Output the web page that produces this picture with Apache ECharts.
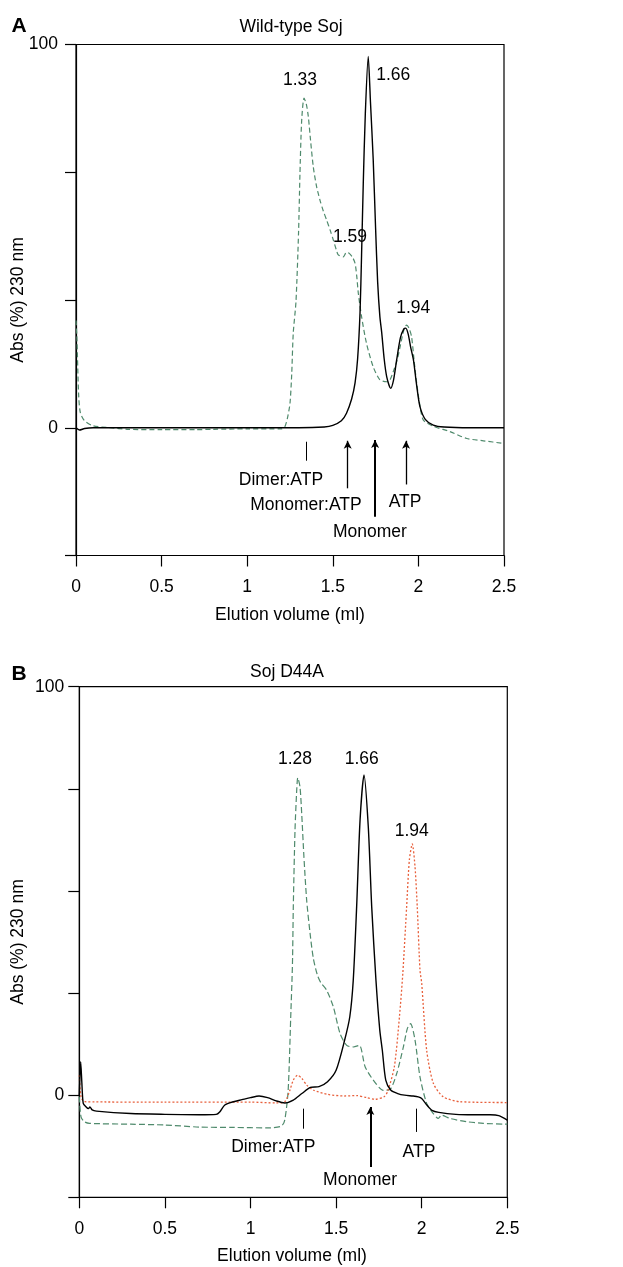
<!DOCTYPE html>
<html>
<head>
<meta charset="utf-8">
<script src="https://cdn.jsdelivr.net/npm/echarts@6/dist/echarts.min.js"></script>
<style>
html,body{margin:0;padding:0;background:#fff;}
#chart{width:623px;height:1267px;}
</style>
</head>
<body>
<div id="chart"></div>
<script>
// ---------- Panel A: Wild-type Soj ----------
var aBlackX = [0,0.02,0.05,0.1,0.5,1.0,1.3,1.45,1.5,1.55,1.58,1.61,1.63,1.645,1.659,1.668,1.678,1.69,1.707,1.72,1.736,1.75,1.762,1.775,1.786,1.8,1.815,1.838,1.855,1.873,1.895,1.915,1.926,1.94,1.955,1.971,1.99,2.009,2.04,2.087,2.15,2.3,2.5];
var aBlackY = [0,-0.6,-0.2,0,0,0,0,0.2,0.6,1.8,3.8,7.5,11.7,18,30,45,63.8,82,96.9,85,70,52,38,29,24.7,18,13.3,10.3,12.5,17.7,23.5,25.8,26,24.5,21,17.7,11,5.5,2.2,0.7,0.2,0,0];
var aGreenX = [0,0.005,0.015,0.025,0.05,0.1,0.2,0.3,0.5,0.7,0.8,1.0,1.2,1.22,1.235,1.25,1.26,1.269,1.285,1.3,1.308,1.318,1.332,1.345,1.357,1.37,1.386,1.405,1.425,1.445,1.464,1.485,1.503,1.52,1.532,1.561,1.58,1.596,1.615,1.63,1.64,1.649,1.668,1.697,1.736,1.775,1.815,1.835,1.853,1.875,1.893,1.915,1.931,1.945,1.96,1.975,1.99,2.01,2.029,2.087,2.184,2.282,2.379,2.5];
var aGreenY = [28,24,9,4,1.8,0.5,0,-0.4,-0.5,-0.5,-0.4,-0.3,-0.3,0.3,2.5,6.4,14,24.7,33,51,66,80,86,84.5,81.2,75,68.1,63,59.4,56.5,54.2,51.5,49,46.5,45.1,44.6,45.8,45.5,44.5,42.9,39.5,35.1,29,22,15.9,12.5,12,12.6,14.6,17.5,21.1,25.5,26.8,26,23.8,17.5,11.6,5.5,2,0.4,-1,-2.8,-3.4,-4.1];
var aArrowX    = [1.343, 1.587, 1.747, 1.928];
var aArrowLow  = [-8.6, -15.8, -23.2, -14.8];
var aArrowHigh = [-3.65, -3.4, -3.2, -3.4];
var aArrowHead = [false, true, true, true];
var aArrowWide = [1, 1.3, 2, 1.3];
var aNoteText = ['Dimer:ATP','Monomer:ATP','Monomer','ATP','1.33','1.66','1.59','1.94'];
var aNoteX    = [1.197, 1.343, 1.717, 1.922, 1.308, 1.853, 1.600, 1.970];
var aNoteY    = [-13.7, -20.2, -27.3, -19.3, 90.8, 92.1, 49.7, 31.2];

// ---------- Panel B: Soj D44A ----------
var bBlackX = [0,0.008,0.015,0.023,0.04,0.053,0.062,0.075,0.1,0.3,0.5,0.7,0.8,0.82,0.85,0.9,0.95,1.0,1.05,1.1,1.15,1.2,1.25,1.3,1.35,1.4,1.45,1.5,1.55,1.58,1.6,1.62,1.64,1.663,1.688,1.708,1.733,1.755,1.77,1.79,1.82,1.86,1.9,1.95,1.98,2.0,2.03,2.06,2.1,2.2,2.3,2.4,2.45,2.5];
var bBlackY = [0,8.2,3,-2,-2.9,-3.3,-2.9,-3.6,-3.9,-4.5,-4.7,-4.8,-4.7,-4.1,-2.4,-1.6,-1.1,-0.6,-0.2,-0.6,-1.4,-1.9,-1.2,0.4,1.9,2.1,3.3,6.1,13.5,19.2,28,46.1,67.4,78.4,65.7,46.1,28,16,11,3.7,1.2,0.4,0,-0.2,-0.4,-0.8,-2.4,-3.7,-4.2,-4.7,-4.8,-4.8,-5,-6.1];
var bGreenX = [0,0.01,0.03,0.06,0.3,0.5,0.7,0.9,1.1,1.18,1.2,1.22,1.235,1.245,1.25,1.26,1.27,1.276,1.289,1.299,1.312,1.328,1.348,1.367,1.39,1.41,1.445,1.484,1.523,1.562,1.601,1.636,1.67,1.717,1.776,1.815,1.854,1.893,1.916,1.935,1.961,1.99,2.029,2.068,2.097,2.116,2.165,2.263,2.36,2.5];
var bGreenY = [-0.4,-5.3,-6.5,-6.9,-7.1,-7.3,-7.8,-7.9,-8,-7.6,-6.1,1.2,19.2,32,46.1,64.9,74.7,77.7,75.5,69,58.4,47.8,39.6,33.5,29.5,27.6,25.7,21.6,15.1,12.2,11.8,12.2,6.9,3.7,1.2,1.4,5.3,11.8,16.3,17.5,13.5,4.5,-2,-4.5,-5.7,-4.9,-5.7,-6.5,-6.9,-7.1];
var bRedX = [0,0.01,0.03,0.5,1.0,1.15,1.2,1.23,1.25,1.275,1.3,1.33,1.37,1.45,1.55,1.62,1.68,1.73,1.78,1.8,1.84,1.87,1.89,1.912,1.928,1.945,1.961,1.974,1.99,2.0,2.029,2.068,2.126,2.224,2.5];
var bRedY = [4.9,-0.4,-1.6,-1.7,-1.7,-1.9,-1.6,1.2,3.7,4.9,4.1,2.4,1.2,0.2,-0.2,-0.1,-0.6,-1,-0.4,0.8,6.9,19.2,30,46.1,57.6,61.5,55.9,46.1,30.6,27.4,11,2.9,-0.4,-1.6,-1.8];
var bArrowX    = [1.308, 1.700, 1.967];
var bArrowLow  = [-8.2, -17.6, -9.0];
var bArrowHigh = [-3.3, -2.9, -3.3];
var bArrowHead = [false, true, false];
var bArrowWide = [1, 2, 1];
var bNoteText = ['Dimer:ATP','Monomer','ATP','1.28','1.66','1.94'];
var bNoteX    = [1.133, 1.640, 1.984, 1.260, 1.650, 1.942];
var bNoteY    = [-12.7, -20.8, -13.9, 82.3, 82.3, 64.7];

// ---------- axis ticks ----------
var xTicks = [0, 0.5, 1, 1.5, 2, 2.5];
var xTickLabels = ['0', '0.5', '1', '1.5', '2', '2.5'];
var yLabelled = [0, 100];

var FONT = "'Liberation Sans', Arial, Helvetica, sans-serif";
var GREEN = '#4f8a6c';
var RED = '#e8603c';

function zip(xs, ys) { return xs.map(function (x, i) { return [x, ys[i]]; }); }

function xAxisFor(gi) {
  return {
    type: 'value', gridIndex: gi, min: xTicks[0], max: xTicks[xTicks.length - 1], interval: 0.5,
    axisLine: { show: true, onZero: false, lineStyle: { color: '#000', width: 1.2 } },
    axisTick: { show: true, length: 11, lineStyle: { color: '#000', width: 1.2 } },
    splitLine: { show: false },
    axisLabel: {
      margin: 23, color: '#000', fontFamily: FONT, fontSize: 17.5,
      formatter: function (v) {
        for (var i = 0; i < xTicks.length; i++) if (Math.abs(v - xTicks[i]) < 1e-6) return xTickLabels[i];
        return '';
      }
    }
  };
}
function yAxisFor(gi, min, interval, margin) {
  return {
    type: 'value', gridIndex: gi, min: min, max: 100, interval: interval,
    axisLine: { show: true, onZero: false, lineStyle: { color: '#000', width: 1.2 } },
    axisTick: { show: true, length: 11, lineStyle: { color: '#000', width: 1.2 } },
    splitLine: { show: false },
    axisLabel: {
      margin: margin, color: '#000', fontFamily: FONT, fontSize: 17.5,
      formatter: function (v) {
        for (var i = 0; i < yLabelled.length; i++) if (Math.abs(v - yLabelled[i]) < 1e-6) return String(yLabelled[i]);
        return '';
      }
    }
  };
}
function lineSeries(gi, xs, ys, color, type, width, z) {
  return {
    type: 'line', xAxisIndex: gi, yAxisIndex: gi, data: zip(xs, ys),
    showSymbol: false, symbol: 'none', smooth: 0.25, z: z,
    lineStyle: { color: color, width: width, type: type },
    animation: false, silent: true
  };
}
function arrowSeries(gi, xs, lows, highs, heads, widths) {
  return {
    type: 'line', xAxisIndex: gi, yAxisIndex: gi, data: [], silent: true, animation: false,
    markLine: {
      silent: true, animation: false, symbolSize: [6, 8],
      label: { show: false },
      data: xs.map(function (x, i) {
        return [
          { coord: [x, lows[i]], symbol: 'none' },
          { coord: [x, highs[i]], symbol: heads[i] ? 'arrow' : 'none',
            lineStyle: { color: '#000', width: widths[i], type: 'solid' } }
        ];
      }),
      lineStyle: { color: '#000', type: 'solid' }
    }
  };
}
function noteSeries(gi, xs, ys, texts) {
  return {
    type: 'custom', xAxisIndex: gi, yAxisIndex: gi, silent: true, animation: false, z: 10,
    data: xs.map(function (x, i) { return [x, ys[i], i]; }),
    renderItem: function (params, api) {
      var p = api.coord([api.value(0), api.value(1)]);
      return {
        type: 'text', x: p[0], y: p[1],
        style: { text: texts[api.value(2)], fill: '#000', font: '17.5px ' + FONT, align: 'center', verticalAlign: 'middle' }
      };
    }
  };
}
function txt(x, y, s, size, weight, rot) {
  return {
    type: 'text', x: x, y: y, rotation: rot || 0, silent: true,
    style: { text: s, fill: '#000', font: (weight || 'normal') + ' ' + size + 'px ' + FONT, align: 'center', verticalAlign: 'middle' }
  };
}

var chart = echarts.init(document.getElementById('chart'), null, { renderer: 'canvas' });
chart.setOption({
  backgroundColor: '#fff',
  animation: false,
  grid: [
    { left: 76, top: 44.5, width: 428, height: 511, show: true, borderColor: '#000', borderWidth: 1.2, backgroundColor: 'transparent' },
    { left: 79.3, top: 686.7, width: 428, height: 510.6, show: true, borderColor: '#000', borderWidth: 1.2, backgroundColor: 'transparent' }
  ],
  xAxis: [xAxisFor(0), xAxisFor(1)],
  yAxis: [yAxisFor(0, -100 / 3, 100 / 3, 18), yAxisFor(1, -25, 25, 15)],
  series: [
    lineSeries(0, aGreenX, aGreenY, GREEN, [5, 3], 1.2, 2),
    lineSeries(0, aBlackX, aBlackY, '#000', 'solid', 1.4, 3),
    arrowSeries(0, aArrowX, aArrowLow, aArrowHigh, aArrowHead, aArrowWide),
    noteSeries(0, aNoteX, aNoteY, aNoteText),
    lineSeries(1, bGreenX, bGreenY, GREEN, [6, 3], 1.2, 2),
    lineSeries(1, bRedX, bRedY, RED, [2, 2], 1.3, 2),
    lineSeries(1, bBlackX, bBlackY, '#000', 'solid', 1.4, 3),
    arrowSeries(1, bArrowX, bArrowLow, bArrowHigh, bArrowHead, bArrowWide),
    noteSeries(1, bNoteX, bNoteY, bNoteText)
  ],
  graphic: [
    txt(19, 26, 'A', 21, 'bold'),
    txt(291, 27, 'Wild-type Soj', 17.5),
    txt(290, 615, 'Elution volume (ml)', 17.5),
    txt(18.5, 300, 'Abs (%) 230 nm', 17.5, 'normal', Math.PI / 2),
    txt(19, 674, 'B', 21, 'bold'),
    txt(287, 672, 'Soj D44A', 17.5),
    txt(292, 1256, 'Elution volume (ml)', 17.5),
    txt(18.5, 942, 'Abs (%) 230 nm', 17.5, 'normal', Math.PI / 2)
  ]
});
</script>
</body>
</html>
